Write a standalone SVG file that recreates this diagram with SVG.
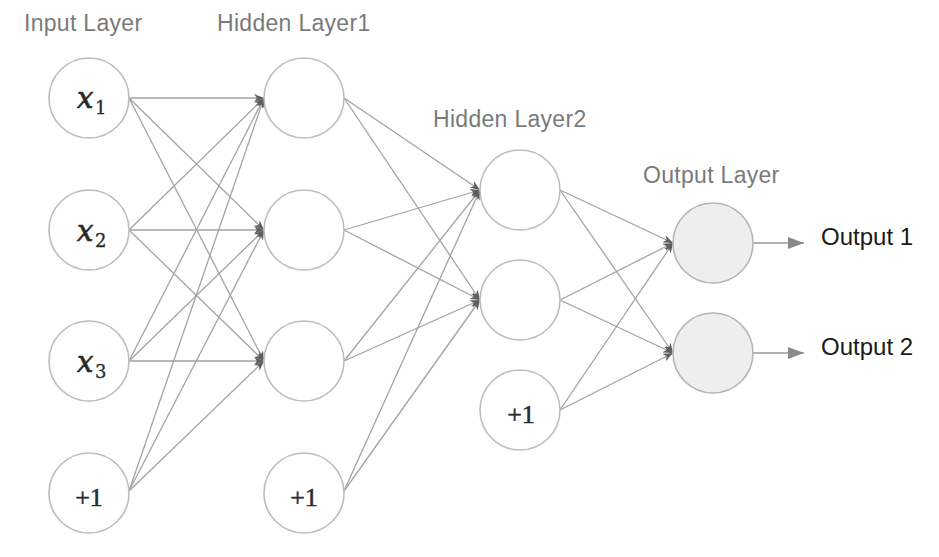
<svg xmlns="http://www.w3.org/2000/svg" width="939" height="557" viewBox="0 0 939 557">
<defs>
<marker id="ah" viewBox="0 0 10 8" refX="10" refY="4" markerWidth="10" markerHeight="8" markerUnits="userSpaceOnUse" orient="auto">
<path d="M0,0 L10,4 L0,8 L3,4 z" fill="#5e5e5e"/>
</marker>
<marker id="oa" viewBox="0 0 16 12" refX="16" refY="6" markerWidth="16" markerHeight="12" markerUnits="userSpaceOnUse" orient="auto">
<path d="M0,0 L16,6 L0,12 z" fill="#8a8a8a"/>
</marker>
</defs>
<style>
.n{fill:#ffffff;stroke:#bdbdbd;stroke-width:1.6}
.o{fill:#eeeeee;stroke:#b5b5b5;stroke-width:1.6}
.c{stroke:#a3a3a3;stroke-width:1.3;fill:none;marker-end:url(#ah)}
.oc{stroke:#999999;stroke-width:1.5;fill:none;marker-end:url(#oa)}
.lbl{font-family:"Liberation Sans",Arial,sans-serif;font-size:23px;fill:#7a7a7a;letter-spacing:0.3px}
.out{font-family:"Liberation Sans",Arial,sans-serif;font-size:24px;fill:#1a1a1a}
.var{font-family:"DejaVu Serif",serif;font-style:italic;font-size:29px;fill:#2a2a2a;stroke:#2a2a2a;stroke-width:0.7}
.sub{font-family:"DejaVu Serif",serif;font-size:18px;fill:#2a2a2a;stroke:#2a2a2a;stroke-width:0.3}
.one{font-family:"Liberation Serif",serif;font-size:26px;fill:#2a2a2a;stroke:#2a2a2a;stroke-width:0.5;text-anchor:middle}
</style>
<rect width="939" height="557" fill="#ffffff"/>
<g id="labels">
<text class="lbl" x="24" y="31">Input Layer</text>
<text class="lbl" x="217" y="31">Hidden Layer1</text>
<text class="lbl" x="433" y="127">Hidden Layer2</text>
<text class="lbl" x="643" y="183">Output Layer</text>
</g>
<g id="connectors">
<line class="c" x1="129" y1="98" x2="264" y2="98"/>
<line class="c" x1="129" y1="98" x2="264" y2="230"/>
<line class="c" x1="129" y1="98" x2="264" y2="361"/>
<line class="c" x1="129" y1="230" x2="264" y2="98"/>
<line class="c" x1="129" y1="230" x2="264" y2="230"/>
<line class="c" x1="129" y1="230" x2="264" y2="361"/>
<line class="c" x1="129" y1="361" x2="264" y2="98"/>
<line class="c" x1="129" y1="361" x2="264" y2="230"/>
<line class="c" x1="129" y1="361" x2="264" y2="361"/>
<line class="c" x1="129" y1="491" x2="264" y2="98"/>
<line class="c" x1="129" y1="491" x2="264" y2="230"/>
<line class="c" x1="129" y1="491" x2="264" y2="361"/>
<line class="c" x1="344" y1="98" x2="480" y2="190"/>
<line class="c" x1="344" y1="98" x2="480" y2="300"/>
<line class="c" x1="344" y1="230" x2="480" y2="190"/>
<line class="c" x1="344" y1="230" x2="480" y2="300"/>
<line class="c" x1="344" y1="361" x2="480" y2="190"/>
<line class="c" x1="344" y1="361" x2="480" y2="300"/>
<line class="c" x1="344" y1="491" x2="480" y2="190"/>
<line class="c" x1="344" y1="491" x2="480" y2="300"/>
<line class="c" x1="560" y1="190" x2="673" y2="243"/>
<line class="c" x1="560" y1="190" x2="673" y2="353"/>
<line class="c" x1="560" y1="300" x2="673" y2="243"/>
<line class="c" x1="560" y1="300" x2="673" y2="353"/>
<line class="c" x1="560" y1="410" x2="673" y2="243"/>
<line class="c" x1="560" y1="410" x2="673" y2="353"/>
<line class="oc" x1="753" y1="243" x2="804" y2="243"/>
<line class="oc" x1="753" y1="353" x2="804" y2="353"/>
</g>
<g id="in1"><circle class="n" cx="89" cy="98" r="40"/><text class="var" x="77" y="108">x</text><text class="sub" x="95" y="114">1</text></g>
<g id="in2"><circle class="n" cx="89" cy="230" r="40"/><text class="var" x="77" y="241">x</text><text class="sub" x="95" y="247">2</text></g>
<g id="in3"><circle class="n" cx="89" cy="361" r="40"/><text class="var" x="77" y="372">x</text><text class="sub" x="95" y="378">3</text></g>
<g id="inb"><circle class="n" cx="89" cy="493" r="40"/><text class="one" x="89" y="506">+1</text></g>
<g id="h1a"><circle class="n" cx="304" cy="98" r="40"/></g>
<g id="h1b"><circle class="n" cx="304" cy="230" r="40"/></g>
<g id="h1c"><circle class="n" cx="304" cy="361" r="40"/></g>
<g id="h1d"><circle class="n" cx="304" cy="493" r="40"/><text class="one" x="304" y="506">+1</text></g>
<g id="h2a"><circle class="n" cx="520" cy="190" r="40"/></g>
<g id="h2b"><circle class="n" cx="520" cy="300" r="40"/></g>
<g id="h2c"><circle class="n" cx="520" cy="410" r="40"/><text class="one" x="521" y="423">+1</text></g>
<g id="o1"><circle class="o" cx="713" cy="243" r="40"/></g>
<g id="o2"><circle class="o" cx="713" cy="353" r="40"/></g>
<g id="outs">
<text class="out" x="821" y="245">Output 1</text>
<text class="out" x="821" y="355">Output 2</text>
</g>
</svg>
